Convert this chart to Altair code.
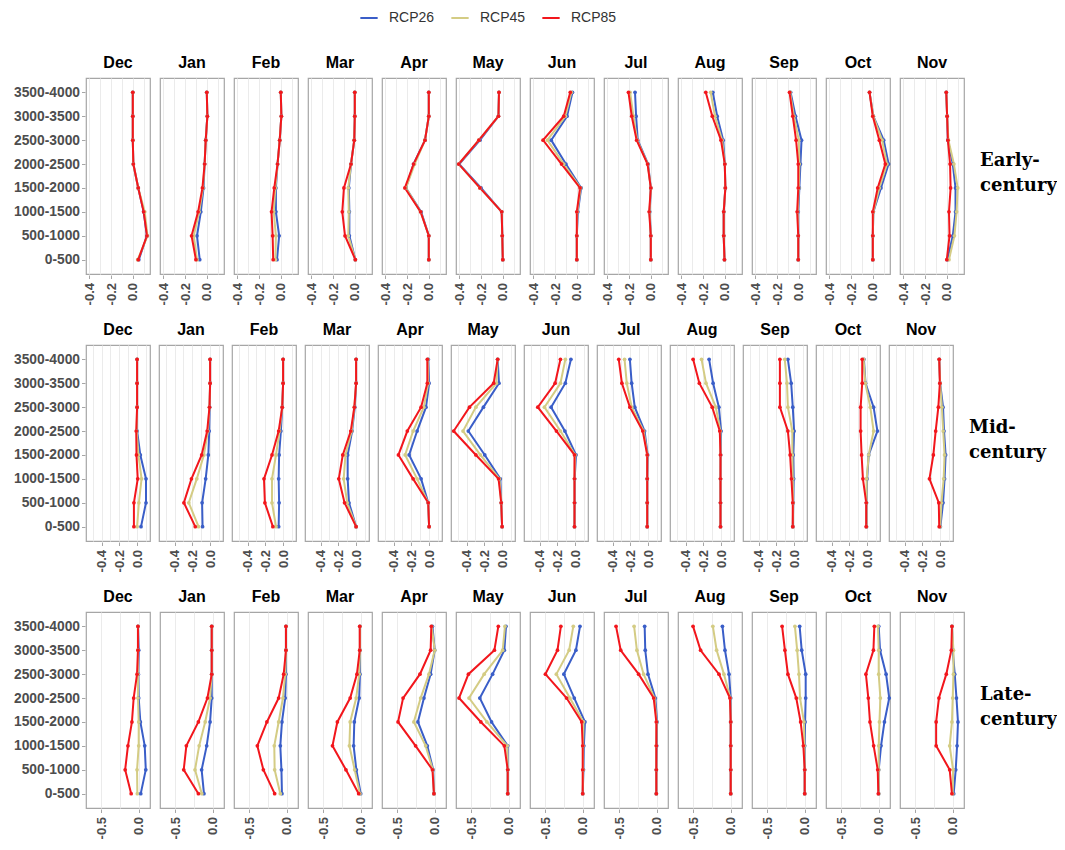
import altair as alt
import pandas as pd

BANDS = ["0-500", "500-1000", "1000-1500", "1500-2000",
         "2000-2500", "2500-3000", "3000-3500", "3500-4000"]
MONTHS = ["Dec", "Jan", "Feb", "Mar", "Apr", "May",
          "Jun", "Jul", "Aug", "Sep", "Oct", "Nov"]
SCENARIOS = ["RCP26", "RCP45", "RCP85"]
COLORS = ["#3A5EC8", "#D4CC84", "#F2161C"]
PERIODS = ["Early-|century", "Mid-|century", "Late-|century"]

# values listed from the lowest band (0-500) to the highest (3500-4000)
early_rcp26 = {
    "Dec": [0.055, 0.13, 0.10, 0.05, 0.005, 0.0, 0.0, 0.0],
    "Jan": [-0.065, -0.09, -0.055, -0.03, -0.02, -0.01, 0.005, 0.0],
    "Feb": [-0.035, -0.015, -0.045, -0.045, -0.03, -0.01, 0.005, 0.0],
    "Mar": [0.005, -0.05, -0.05, -0.055, -0.035, -0.005, 0.0, 0.0],
    "Apr": [0.0, 0.0, -0.07, -0.21, -0.14, -0.035, 0.0, 0.0],
    "May": [0.0, -0.005, -0.01, -0.20, -0.40, -0.21, -0.04, -0.035],
    "Jun": [0.0, 0.0, 0.01, 0.04, -0.10, -0.235, -0.09, -0.04],
    "Jul": [0.0, 0.0, -0.01, 0.0, -0.025, -0.12, -0.135, -0.145],
    "Aug": [-0.003, -0.01, -0.01, 0.005, 0.0, -0.015, -0.07, -0.11],
    "Sep": [-0.005, -0.005, -0.005, 0.005, 0.015, 0.025, -0.03, -0.075],
    "Oct": [0.0, 0.0, 0.005, 0.075, 0.145, 0.10, 0.005, -0.03],
    "Nov": [0.005, 0.055, 0.08, 0.08, 0.055, 0.01, 0.003, -0.005],
}
early_rcp45 = {
    "Dec": [0.045, 0.135, 0.11, 0.05, 0.005, 0.0, 0.0, 0.0],
    "Jan": [-0.09, -0.12, -0.07, -0.035, -0.02, -0.01, 0.005, 0.0],
    "Feb": [-0.05, -0.045, -0.065, -0.05, -0.03, -0.01, 0.005, 0.0],
    "Mar": [0.005, -0.06, -0.055, -0.06, -0.035, -0.005, 0.0, 0.0],
    "Apr": [0.0, 0.0, -0.075, -0.21, -0.13, -0.035, 0.0, 0.0],
    "May": [0.0, -0.005, -0.01, -0.21, -0.405, -0.22, -0.04, -0.035],
    "Jun": [0.0, 0.0, 0.005, 0.035, -0.12, -0.27, -0.105, -0.05],
    "Jul": [0.0, 0.0, -0.012, 0.0, -0.028, -0.125, -0.16, -0.19],
    "Aug": [-0.003, -0.01, -0.01, 0.005, 0.0, -0.025, -0.09, -0.13],
    "Sep": [-0.005, -0.005, -0.01, 0.0, 0.005, 0.0, -0.045, -0.08],
    "Oct": [0.0, 0.0, 0.005, 0.06, 0.13, 0.085, 0.005, -0.03],
    "Nov": [0.02, 0.07, 0.09, 0.10, 0.065, 0.015, 0.003, -0.005],
}
early_rcp85 = {
    "Dec": [0.05, 0.13, 0.10, 0.05, 0.005, 0.0, 0.0, 0.0],
    "Jan": [-0.10, -0.14, -0.08, -0.04, -0.02, -0.01, 0.005, 0.0],
    "Feb": [-0.07, -0.075, -0.085, -0.06, -0.03, -0.01, 0.005, 0.0],
    "Mar": [0.005, -0.09, -0.115, -0.10, -0.035, -0.005, 0.0, 0.0],
    "Apr": [0.0, 0.0, -0.075, -0.22, -0.14, -0.035, 0.0, 0.0],
    "May": [0.0, -0.005, -0.01, -0.21, -0.405, -0.22, -0.04, -0.035],
    "Jun": [0.0, 0.0, 0.0, 0.03, -0.14, -0.31, -0.12, -0.06],
    "Jul": [0.0, 0.0, -0.015, 0.0, -0.03, -0.13, -0.175, -0.205],
    "Aug": [-0.003, -0.01, -0.01, 0.005, 0.0, -0.035, -0.115, -0.175],
    "Sep": [-0.005, -0.005, -0.015, -0.005, -0.005, -0.025, -0.055, -0.085],
    "Oct": [0.0, 0.0, 0.0, 0.045, 0.115, 0.06, 0.0, -0.03],
    "Nov": [0.0, 0.025, 0.02, 0.035, 0.03, 0.01, 0.003, -0.005],
}

mid_rcp26 = {
    "Dec": [0.044, 0.10, 0.10, 0.036, 0.0, 0.0, 0.0, 0.0],
    "Jan": [-0.085, -0.09, -0.05, -0.02, -0.01, -0.005, 0.0, 0.0],
    "Feb": [-0.05, -0.045, -0.05, -0.045, -0.025, -0.01, 0.0, 0.0],
    "Mar": [0.0, -0.08, -0.095, -0.095, -0.045, -0.015, 0.0, 0.0],
    "Apr": [0.0, -0.01, -0.09, -0.225, -0.135, -0.035, 0.0, -0.01],
    "May": [0.0, -0.01, -0.02, -0.195, -0.38, -0.21, -0.035, -0.05],
    "Jun": [-0.007, -0.005, -0.005, 0.01, -0.115, -0.27, -0.11, -0.047],
    "Jul": [-0.01, -0.01, -0.01, -0.005, -0.04, -0.15, -0.185, -0.205],
    "Aug": [-0.007, -0.007, -0.007, -0.005, 0.0, -0.025, -0.09, -0.135],
    "Sep": [-0.015, -0.01, -0.005, -0.01, 0.0, -0.015, -0.033, -0.07],
    "Oct": [-0.007, -0.007, 0.0, 0.018, 0.116, 0.073, -0.018, -0.036],
    "Nov": [0.003, 0.033, 0.05, 0.062, 0.044, 0.033, 0.0, -0.01],
}
mid_rcp45 = {
    "Dec": [0.0, 0.02, 0.05, 0.015, -0.005, 0.0, 0.0, 0.0],
    "Jan": [-0.13, -0.24, -0.15, -0.07, -0.025, -0.007, 0.0, 0.0],
    "Feb": [-0.08, -0.125, -0.125, -0.08, -0.04, -0.01, 0.0, 0.0],
    "Mar": [0.0, -0.10, -0.14, -0.12, -0.05, -0.02, 0.0, 0.0],
    "Apr": [0.0, -0.01, -0.135, -0.27, -0.18, -0.06, -0.01, -0.015],
    "May": [0.0, -0.01, -0.03, -0.245, -0.44, -0.295, -0.065, -0.05],
    "Jun": [-0.007, -0.007, -0.007, 0.0, -0.165, -0.345, -0.165, -0.11],
    "Jul": [-0.01, -0.01, -0.01, -0.008, -0.05, -0.185, -0.24, -0.265],
    "Aug": [-0.007, -0.007, -0.007, -0.006, -0.008, -0.06, -0.17, -0.22],
    "Sep": [-0.015, -0.012, -0.015, -0.02, -0.02, -0.07, -0.08, -0.105],
    "Oct": [-0.007, -0.007, -0.005, 0.018, 0.073, 0.036, -0.02, -0.04],
    "Nov": [0.0, 0.015, 0.04, 0.05, 0.035, 0.02, 0.0, -0.01],
}
mid_rcp85 = {
    "Dec": [-0.036, -0.036, 0.007, -0.007, -0.01, 0.0, 0.0, 0.0],
    "Jan": [-0.167, -0.295, -0.21, -0.095, -0.033, -0.007, 0.0, 0.0],
    "Feb": [-0.115, -0.205, -0.215, -0.125, -0.05, -0.01, 0.0, 0.0],
    "Mar": [0.0, -0.13, -0.195, -0.15, -0.06, -0.02, 0.0, 0.0],
    "Apr": [0.0, -0.01, -0.18, -0.345, -0.245, -0.09, -0.02, -0.02],
    "May": [0.0, -0.01, -0.04, -0.295, -0.545, -0.367, -0.095, -0.05],
    "Jun": [-0.007, -0.007, -0.007, -0.007, -0.21, -0.42, -0.225, -0.165],
    "Jul": [-0.01, -0.01, -0.01, -0.01, -0.06, -0.205, -0.295, -0.33],
    "Aug": [-0.007, -0.007, -0.007, -0.007, -0.015, -0.10, -0.245, -0.315],
    "Sep": [-0.015, -0.015, -0.03, -0.045, -0.07, -0.16, -0.16, -0.16],
    "Oct": [-0.01, -0.01, -0.047, -0.062, -0.073, -0.073, -0.055, -0.055],
    "Nov": [-0.01, -0.015, -0.12, -0.076, -0.05, -0.02, -0.003, -0.01],
}

late_rcp26 = {
    "Dec": [0.027, 0.094, 0.08, 0.022, 0.0, -0.005, 0.0, -0.01],
    "Jan": [-0.116, -0.147, -0.08, -0.035, -0.013, -0.013, -0.013, -0.013],
    "Feb": [-0.063, -0.07, -0.085, -0.063, -0.02, -0.01, -0.01, -0.01],
    "Mar": [0.0, -0.058, -0.094, -0.085, -0.02, -0.01, -0.01, -0.01],
    "Apr": [-0.01, -0.02, -0.098, -0.223, -0.143, -0.054, 0.0, -0.03],
    "May": [-0.013, -0.013, -0.013, -0.228, -0.384, -0.214, -0.058, -0.036],
    "Jun": [0.0, 0.01, 0.015, 0.03, -0.112, -0.25, -0.09, -0.036],
    "Jul": [-0.005, -0.005, 0.0, 0.005, -0.018, -0.116, -0.152, -0.16],
    "Aug": [0.0, 0.0, 0.0, 0.0, 0.0, -0.022, -0.076, -0.11],
    "Sep": [0.0, 0.0, 0.0, 0.005, 0.013, 0.013, -0.04, -0.067],
    "Oct": [0.0, 0.0, 0.031, 0.076, 0.14, 0.098, 0.018, 0.0],
    "Nov": [0.013, 0.04, 0.058, 0.07, 0.05, 0.027, 0.0, -0.01],
}
late_rcp45 = {
    "Dec": [-0.018, -0.022, 0.0, 0.0, -0.01, -0.01, -0.01, -0.01],
    "Jan": [-0.145, -0.235, -0.18, -0.10, -0.035, -0.013, -0.013, -0.013],
    "Feb": [-0.085, -0.16, -0.165, -0.107, -0.05, -0.02, -0.01, -0.01],
    "Mar": [-0.01, -0.08, -0.15, -0.14, -0.06, -0.02, -0.01, -0.01],
    "Apr": [-0.01, -0.025, -0.12, -0.277, -0.187, -0.076, 0.0, -0.04],
    "May": [-0.013, -0.013, -0.02, -0.29, -0.527, -0.326, -0.08, -0.05],
    "Jun": [0.0, 0.005, 0.005, 0.01, -0.17, -0.35, -0.18, -0.125],
    "Jul": [-0.005, -0.005, -0.005, 0.0, -0.03, -0.174, -0.263, -0.30],
    "Aug": [0.0, 0.0, 0.0, 0.0, -0.005, -0.09, -0.187, -0.237],
    "Sep": [0.0, 0.0, -0.005, -0.01, -0.062, -0.076, -0.10, -0.13],
    "Oct": [0.0, 0.0, 0.0, 0.01, 0.022, 0.0, 0.0, -0.01],
    "Nov": [0.0, 0.005, -0.04, -0.01, 0.0, 0.01, 0.01, -0.01],
}
late_rcp85 = {
    "Dec": [-0.10, -0.18, -0.143, -0.09, -0.067, -0.022, -0.01, -0.01],
    "Jan": [-0.19, -0.385, -0.35, -0.19, -0.07, -0.013, -0.013, -0.013],
    "Feb": [-0.16, -0.31, -0.39, -0.263, -0.107, -0.04, -0.01, -0.01],
    "Mar": [-0.027, -0.196, -0.375, -0.31, -0.14, -0.05, -0.013, -0.013],
    "Apr": [-0.01, -0.03, -0.254, -0.487, -0.42, -0.196, -0.054, -0.045],
    "May": [-0.013, -0.013, -0.058, -0.37, -0.66, -0.535, -0.19, -0.138],
    "Jun": [0.0, 0.0, 0.0, -0.013, -0.214, -0.495, -0.335, -0.29],
    "Jul": [-0.005, -0.005, -0.005, -0.005, -0.04, -0.24, -0.478, -0.54],
    "Aug": [0.0, 0.0, 0.0, 0.0, -0.01, -0.156, -0.40, -0.50],
    "Sep": [0.0, 0.0, -0.018, -0.054, -0.112, -0.223, -0.263, -0.30],
    "Oct": [-0.005, -0.013, -0.067, -0.116, -0.138, -0.17, -0.07, -0.058],
    "Nov": [-0.01, -0.04, -0.22, -0.22, -0.183, -0.085, -0.018, -0.01],
}

# x-axis setup per row: domain, labelled ticks, extra grid lines
ROW_DOMAINS = [[-0.43, 0.158], [-0.575, 0.145], [-0.70, 0.15]]
ROW_MAJOR = [[-0.4, -0.2, 0.0], [-0.4, -0.2, 0.0], [-0.5, 0.0]]
ROW_MINOR = [[-0.3, -0.1, 0.1], [-0.5, -0.3, -0.1, 0.1], [-0.25]]

GROUPS = [
    (early_rcp26, early_rcp45, early_rcp85),
    (mid_rcp26, mid_rcp45, mid_rcp85),
    (late_rcp26, late_rcp45, late_rcp85),
]

records = []
for period, group in zip(PERIODS, GROUPS):
    for scen, table in zip(SCENARIOS, group):
        for m in MONTHS:
            for i, (b, v) in enumerate(zip(BANDS, table[m])):
                records.append({"period": period, "scenario": scen, "month": m,
                                "band": b, "idx": i, "value": v})
df = pd.DataFrame(records)

FONT = "Liberation Sans"
PANEL_W = 64
PANEL_H = 196


def make_row(k):
    period = PERIODS[k]
    major = ROW_MAJOR[k]
    minor = ROW_MINOR[k]
    test = "indexof(" + str(major) + ", datum.value) >= 0"
    xaxis = alt.Axis(
        values=sorted(major + minor),
        labelExpr=test + " ? replace(format(datum.value, '.1f'), '\u2212', '-') : ''",
        tickOpacity=alt.condition(test, alt.value(1), alt.value(0)),
        labelAngle=270, labelAlign="right", labelBaseline="middle",
        labelPadding=4, title=None,
    )
    x = alt.X("value:Q", scale=alt.Scale(domain=ROW_DOMAINS[k], nice=False, zero=False),
              axis=xaxis)
    y = alt.Y("band:N", scale=alt.Scale(type="point", domain=BANDS[::-1], padding=0.6),
              axis=alt.Axis(title=None, labelPadding=2, labelFontSize=13.8))
    color = alt.Color(
        "scenario:N",
        scale=alt.Scale(domain=SCENARIOS, range=COLORS),
        legend=alt.Legend(
            orient="none", legendX=273, legendY=-70, direction="horizontal",
            title=None, symbolType="stroke", symbolStrokeWidth=2, symbolSize=300,
            labelFontSize=14, labelFont=FONT, labelColor="#333333",
            columnPadding=12, labelOffset=10,
        ),
    )
    base = alt.Chart().encode(x=x, y=y, color=color)
    lines = base.mark_line(strokeWidth=2).encode(order="idx:Q")
    pts = base.mark_point(filled=True, size=14, opacity=1)
    layered = alt.layer(lines, pts, data=df[df["period"] == period]).properties(
        width=PANEL_W, height=PANEL_H)
    panels = layered.facet(
        column=alt.Column("month:N", sort=MONTHS, title=None,
                          header=alt.Header(labelFontSize=16, labelFontWeight="bold",
                                            labelFont=FONT, labelColor="black",
                                            labelPadding=6)),
        spacing=4,
    )
    label = alt.Chart(pd.DataFrame({"period": [period]})).mark_text(
        lineBreak="|", align="left", baseline="middle", font="DejaVu Serif",
        fontSize=18, fontWeight="bold", color="black", lineHeight=25,
    ).encode(
        text="period:N", x=alt.value(0), y=alt.value(PANEL_H / 2 - 15)
    ).properties(width=60, height=PANEL_H, view=alt.ViewBackground(stroke=None))
    return alt.hconcat(panels, label, spacing=15)


chart = alt.vconcat(make_row(0), make_row(1), make_row(2), spacing=17).resolve_scale(
    x="independent"
).properties(
    padding={"left": 5, "top": 0, "right": 0, "bottom": 0}
).configure_view(
    stroke="#A6A6A6", strokeWidth=1.2
).configure_axis(
    labelFont=FONT, labelFontSize=13, labelFontWeight="bold", labelColor="#4D4D4D",
    tickColor="#A6A6A6", tickSize=3.5, domain=False, gridColor="#EBEBEB", gridWidth=1,
)

chart.save("out.html", embed_options={"renderer": "svg", "actions": False})
